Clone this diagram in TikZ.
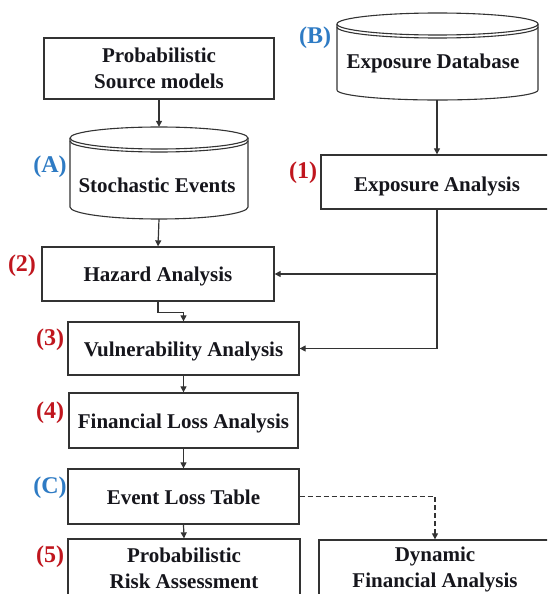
\documentclass[tikz,border=0pt]{standalone}
\usepackage{fontspec}
\setmainfont{Liberation Serif}
\usetikzlibrary{arrows.meta}
\definecolor{ink}{HTML}{16161C}
\definecolor{edge}{HTML}{333333}
\definecolor{lblue}{HTML}{2E7BC4}
\definecolor{lred}{HTML}{C0161E}
\tikzset{
  box/.style={draw=edge, line width=1.3pt, fill=white, inner sep=0pt, text=ink,
    font=\bfseries\fontsize{21}{26}\selectfont, align=center},
  hold/.style={draw=none, inner sep=0pt},
  txt/.style={text=ink, font=\bfseries\fontsize{21}{26}\selectfont, align=center, inner sep=0pt},
  cyl/.style={draw=edge, line width=1.1pt},
  arr/.style={draw=edge, line width=1.2pt, -{Triangle[length=6pt,width=6pt]}},
  blbl/.style={text=lblue, font=\bfseries\fontsize{24}{28}\selectfont, inner sep=0pt},
  rlbl/.style={text=lred, font=\bfseries\fontsize{24}{28}\selectfont, inner sep=0pt},
}
\newcommand{\dn}[2]{\raisebox{-#1pt}[\height][\depth]{#2}}
\begin{document}
\begin{tikzpicture}[x=1pt,y=-1pt]
\clip (0,0) rectangle (547,594);
\fill[white] (0,0) rectangle (547,594);

% boxes
\node[box, minimum width=230pt, minimum height=61pt] (psm) at (159,68.5) {Probabilistic\\Source models};
\node[box, minimum width=232pt, minimum height=54pt] (ea) at (437,182) {\dn{4}{Exposure Analysis}};
\node[box, minimum width=232pt, minimum height=54pt] (haz) at (158,274) {\dn{2}{Hazard Analysis}};
\node[box, minimum width=231pt, minimum height=53pt] (vul) at (183.5,348.5) {\dn{3}{Vulnerability Analysis}};
\node[box, minimum width=229pt, minimum height=55pt] (fin) at (183.5,420.5) {\dn{3}{Financial Loss Analysis}};
\node[box, minimum width=231pt, minimum height=55pt] (elt) at (183.5,496.5) {\dn{1}{Event Loss Table}};
\node[box, minimum width=232pt, minimum height=58pt] (pra) at (184,568) {Probabilistic\\Risk Assessment};
\node[box, minimum width=232pt, minimum height=58pt] (dfa) at (435,569) {Dynamic\\Financial Analysis};

% cylinder: Stochastic Events
\draw[cyl] (70,138) arc[start angle=180, end angle=-180, x radius=89, y radius=11];
\draw[cyl] (70,141) arc[start angle=180, end angle=0, x radius=89, y radius=11];
\draw[cyl] (70,138) -- (70,207) arc[start angle=180, end angle=0, x radius=89, y radius=12] -- (248,138);
\node[hold, minimum width=178pt, minimum height=92pt] (se) at (159,173) {};
\node[txt] (setxt) at (157,185) {Stochastic Events};

% cylinder: Exposure Database
\draw[cyl] (337,24) arc[start angle=180, end angle=-180, x radius=100.5, y radius=11];
\draw[cyl] (337,27) arc[start angle=180, end angle=0, x radius=100.5, y radius=11];
\draw[cyl] (337,24) -- (337,90) arc[start angle=180, end angle=0, x radius=100.5, y radius=10] -- (538,24);
\node[hold, minimum width=201pt, minimum height=87pt] (ed) at (437,56.5) {};
\node[txt] (edtxt) at (433,63) {Exposure Database};

% connectors
\draw[arr] (psm.south) -- (se.north);
\draw[arr] (ed.south) -- (ea.north);
\draw[arr] (se.south) -- (haz.north);
\draw[arr] (ea.south) |- (vul.east);
\draw[arr] (ea.south |- haz.east) -- (haz.east);
\draw[arr] (haz.south) -- ++(0,11) -| (vul.north);
\draw[arr] (vul.south) -- (fin.north);
\draw[arr] (fin.south) -- (elt.north);
\draw[arr] (elt.south) -- (pra.north);
\draw[arr, dashed, dash pattern=on 5pt off 3pt] (elt.east) -| (dfa.north);

% labels
\node[blbl] (la) at (50,167) {(A)};
\node[blbl] (lb) at (315,38) {(B)};
\node[rlbl] (l1) at (303,173) {(1)};
\node[rlbl] (l2) at (22,266) {(2)};
\node[rlbl] (l3) at (50,340) {(3)};
\node[rlbl] (l4) at (50,413) {(4)};
\node[blbl] (lc) at (50,488) {(C)};
\node[rlbl] (l5) at (50,557) {(5)};
\end{tikzpicture}
\end{document}
